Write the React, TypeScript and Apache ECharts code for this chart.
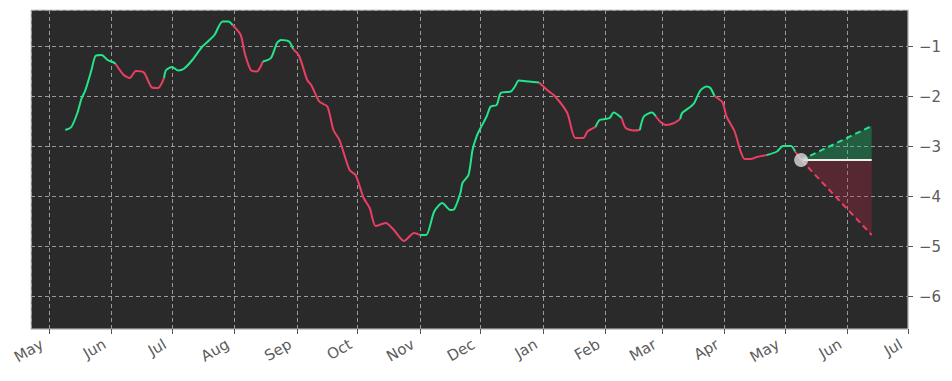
import React, { useEffect, useRef } from "react";
import * as echarts from "echarts";

const DAY = 86400000;
const START = Date.UTC(2022, 4, 1); // day 0 = 1 May 2022
const AXIS_MIN = Date.UTC(2022, 3, 22);
const AXIS_MAX = Date.UTC(2023, 6, 1);
const MONTHS = ["Jan", "Feb", "Mar", "Apr", "May", "Jun", "Jul", "Aug", "Sep", "Oct", "Nov", "Dec"];

// days since START
const dayIndex = [
  8, 11, 14, 16, 18, 21, 23, 26, 29, 32,
  33, 37, 40, 43, 47, 51, 54, 57, 58, 61,
  64, 67, 71, 76, 79, 82, 86, 89, 91, 95,
  97, 100, 103, 106, 110, 113, 115, 119, 121, 124,
  128, 130, 134, 138, 141, 144, 149, 152, 156, 159,
  162, 167, 171, 176, 181, 184, 187, 191, 195, 199,
  201, 204, 205, 208, 210, 212, 214, 217, 219, 222,
  224, 229, 231, 233, 238, 243, 247, 251, 257, 261,
  265, 267, 271, 273, 276, 278, 280, 284, 286, 290,
  293, 295, 299, 301, 303, 306, 310, 313, 314, 318,
  320, 323, 326, 328, 330, 334, 336, 340, 343, 345,
  348, 351, 356, 361, 364, 368, 370, 373,
];

const values = [
  -2.67, -2.61, -2.33, -2.05, -1.87, -1.47, -1.19, -1.17, -1.27, -1.32,
  -1.35, -1.57, -1.63, -1.49, -1.52, -1.82, -1.83, -1.63, -1.47, -1.41,
  -1.48, -1.44, -1.27, -1.0, -0.89, -0.77, -0.5, -0.5, -0.57, -0.77,
  -1.13, -1.47, -1.5, -1.3, -1.23, -0.93, -0.87, -0.9, -1.05, -1.19,
  -1.67, -1.77, -2.1, -2.2, -2.67, -2.87, -3.47, -3.57, -4.03, -4.23,
  -4.59, -4.53, -4.67, -4.89, -4.73, -4.77, -4.77, -4.3, -4.13, -4.27,
  -4.25, -3.93, -3.73, -3.57, -3.07, -2.8, -2.63, -2.4, -2.2, -2.17,
  -1.93, -1.9, -1.8, -1.68, -1.7, -1.72, -1.87, -2.0, -2.33, -2.83,
  -2.83, -2.7, -2.61, -2.47, -2.45, -2.43, -2.32, -2.43, -2.63, -2.68,
  -2.67, -2.4, -2.32, -2.4, -2.5, -2.57, -2.53, -2.45, -2.33, -2.21,
  -2.13, -1.88, -1.8, -1.83, -1.99, -2.12, -2.4, -2.7, -3.1, -3.25,
  -3.25, -3.21, -3.17, -3.1, -2.99, -2.99, -3.1, -3.27,
];

// indices where the colour of the line switches (first run is rising/green)
const colorBreaks = [10, 17, 28, 33, 38, 55, 75, 82, 87, 90, 93, 97, 104, 112, 116];

// forecast
const forecastStartDay = 373;
const forecastEndDay = 408;
const forecastBase = -3.27;
const forecastUpper = -2.59;
const forecastLower = -4.77;

const GREEN = "#22e58c";
const RED = "#ea3e63";

export default function App() {
  const ref = useRef<HTMLDivElement>(null);

  useEffect(() => {
    const chart = echarts.init(ref.current!, null, { renderer: "svg" });
    const t = (d: number) => START + d * DAY;

    const bounds = [0, ...colorBreaks, values.length - 1];
    const runSeries: any[] = [];
    for (let k = 0; k < bounds.length - 1; k++) {
      const s = bounds[k];
      const e = bounds[k + 1];
      const data: [number, number][] = [];
      for (let i = s; i <= e; i++) data.push([t(dayIndex[i]), values[i]]);
      runSeries.push({
        type: "line",
        data,
        symbol: "none",
        smooth: 0.25,
        lineStyle: { color: k % 2 === 0 ? GREEN : RED, width: 2 },
        z: 5,
      });
    }

    const t0 = t(forecastStartDay);
    const t1 = t(forecastEndDay);

    const triangle = (upper: number, fill: string) => ({
      type: "custom",
      renderItem: (_p: any, api: any) => {
        const a = api.coord([api.value(0), api.value(2)]);
        const b = api.coord([api.value(1), api.value(3)]);
        const c = api.coord([api.value(1), api.value(4)]);
        return { type: "polygon", shape: { points: [a, b, c] }, style: { fill } };
      },
      encode: { x: [0, 1], y: [2, 3, 4] },
      data: [[t0, t1, forecastBase, upper, forecastBase]],
      z: 3,
      silent: true,
    });

    const option: any = {
      animation: false,
      useUTC: true,
      backgroundColor: "#ffffff",
      grid: {
        left: 31,
        right: 44,
        top: 10,
        bottom: 52,
        show: true,
        backgroundColor: "#2a2a2a",
        borderColor: "#cccccc",
        borderWidth: 1,
      },
      xAxis: {
        type: "time",
        min: AXIS_MIN,
        max: AXIS_MAX,
        minInterval: 28 * DAY,
        maxInterval: 31 * DAY,
        splitNumber: 14,
        axisLine: { show: true, lineStyle: { color: "#cccccc" } },
        axisTick: { show: true, length: 5, lineStyle: { color: "#555555" } },
        axisLabel: {
          rotate: 30,
          color: "#5c5c5c",
          fontSize: 15,
          fontFamily: "DejaVu Sans",
          margin: 10,
          padding: [0, 8, 0, 0],
          interval: 0,
          showMinLabel: false,
          formatter: (v: number) => MONTHS[new Date(v).getUTCMonth()],
        },
        splitLine: { show: true, lineStyle: { type: [4, 3], color: "#9a9a9a", width: 1 } },
      },
      yAxis: {
        type: "value",
        position: "right",
        min: -6.65,
        max: -0.27,
        axisLine: { show: true, lineStyle: { color: "#cccccc" } },
        axisTick: { show: true, length: 5, lineStyle: { color: "#555555" } },
        axisLabel: {
          color: "#5c5c5c",
          fontSize: 15,
          fontFamily: "DejaVu Sans",
          margin: 11,
          showMinLabel: false,
          showMaxLabel: false,
          formatter: (v: number) => (v < 0 ? "\u2212" + Math.abs(v) : String(v)),
        },
        splitLine: { show: true, lineStyle: { type: [4, 3], color: "#9a9a9a", width: 1 } },
      },
      series: [
        ...runSeries,
        triangle(forecastUpper, "rgba(20,200,110,0.33)"),
        triangle(forecastLower, "rgba(190,40,70,0.3)"),
        {
          type: "line",
          data: [[t0, forecastBase], [t1, forecastBase]],
          symbol: "none",
          lineStyle: { color: "#eeeeee", width: 2 },
          z: 6,
        },
        {
          type: "line",
          data: [[t0, forecastBase], [t1, forecastUpper]],
          symbol: "none",
          lineStyle: { color: GREEN, width: 2, type: [6, 4] },
          z: 6,
        },
        {
          type: "line",
          data: [[t0, forecastBase], [t1, forecastLower]],
          symbol: "none",
          lineStyle: { color: RED, width: 2, type: [6, 4] },
          z: 6,
        },
        {
          type: "scatter",
          data: [[t0, forecastBase]],
          symbolSize: 14,
          itemStyle: { color: "#d9d9d9" },
          z: 8,
        },
      ],
    };

    chart.setOption(option);
    return () => chart.dispose();
  }, []);

  return (
    <div
      ref={ref}
      style={{ position: "absolute", left: 0, top: 0, width: 952, height: 381 }}
    />
  );
}
